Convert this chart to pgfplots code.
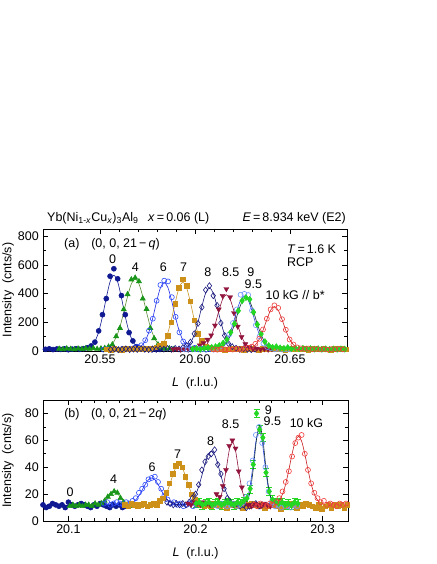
\documentclass[12pt,border=0pt]{standalone}
\usepackage{fontspec}
\setmainfont{Liberation Sans}
\usepackage{pgfplots}
\pgfplotsset{compat=1.18}

\definecolor{c0}{RGB}{15,25,145}
\definecolor{c4}{RGB}{25,150,25}
\definecolor{l4}{RGB}{90,140,50}
\definecolor{c6}{RGB}{45,75,250}
\definecolor{l6}{RGB}{30,40,230}
\definecolor{c7}{RGB}{205,145,25}
\definecolor{l7}{RGB}{200,150,40}
\definecolor{c8}{RGB}{25,25,125}
\definecolor{c85}{RGB}{145,20,60}
\definecolor{c9}{RGB}{35,215,35}
\definecolor{l9}{RGB}{15,45,55}
\definecolor{c95}{RGB}{110,150,255}
\definecolor{l95}{RGB}{40,70,230}
\definecolor{c10}{RGB}{240,60,60}
\definecolor{l10}{RGB}{200,30,30}

\pgfplotsset{
  fit/.style={no marks, smooth, line width=0.6pt},
  dat/.style={only marks, mark options={solid, line width=0.6pt}},
  panel/.style={
    scale only axis, anchor=south west,
    tick align=inside,
    major tick length=5pt, minor tick length=2.8pt,
    tick style={black, line width=0.6pt},
    axis line style={line width=0.7pt},
    /pgf/number format/assume math mode=true,
    every axis y label/.style={at={(axis description cs:-0.115,0.5)}, rotate=90, anchor=center},
    every axis x label/.style={at={(axis description cs:0.5,0)}, anchor=center, yshift=-32pt},
    ylabel={Intensity\ \ (cnts/s)},
    xlabel={\textit{L}\ \ (r.l.u.)},
  },
}

\begin{document}
\begin{tikzpicture}[font=\fontsize{12.5}{14}\selectfont]
\path[use as bounding box] (0,0) rectangle (436pt,564pt);

% ---------- (a) ----------
\begin{axis}[panel, name=top, at={(43pt,213pt)}, width=304pt, height=122pt,
  xmin=20.52, xmax=20.68, ymin=0, ymax=850,
  xtick={20.55,20.60,20.65}, xticklabels={20.55,20.60,20.65},
  minor x tick num=4,
  ytick={0,200,400,600,800}, minor y tick num=1]

\addplot[dat, mark=*, mark size=2.5pt, color=c0] coordinates {
(20.5213,12) (20.5233,15) (20.5253,10) (20.5273,14) (20.5293,11) (20.5313,15) (20.5333,9) (20.5353,13) (20.5373,16) (20.5393,12) (20.5413,16) (20.5433,22) (20.5453,35) (20.5473,62) (20.5493,140) (20.5513,253) (20.5533,365) (20.5553,521) (20.5573,573) (20.5593,503) (20.5613,386) (20.5633,253) (20.5653,128) (20.5673,70) (20.5693,30) (20.5713,17) (20.5733,11) (20.5753,14) (20.5773,9) (20.5793,13) (20.5813,11)};
\addplot[fit, color=c0] coordinates {
(20.52,12) (20.5393,12.3) (20.5413,13.6) (20.5433,18) (20.5453,32) (20.5473,66) (20.5493,133) (20.5513,240) (20.5533,370) (20.5553,482) (20.5573,527) (20.5593,482) (20.5613,370) (20.5633,240) (20.5653,133) (20.5673,66) (20.5693,32) (20.5713,18) (20.5733,13.6) (20.5753,12.3) (20.60,12)};

\addplot[dat, mark=triangle*, mark size=2.9pt, color=c4] coordinates {
(20.5285,15) (20.5305,12) (20.5325,17) (20.5345,14) (20.5365,11) (20.5385,16) (20.5405,13) (20.5425,18) (20.5445,15) (20.5465,19) (20.5485,14) (20.5505,17) (20.5525,20) (20.5545,30) (20.5565,45) (20.5585,102) (20.5605,160) (20.5625,290) (20.5645,395) (20.5665,498) (20.5685,510) (20.5705,485) (20.5725,365) (20.5745,292) (20.5765,160) (20.5785,88) (20.5805,45) (20.5825,24) (20.5845,15) (20.5865,18) (20.5885,12)};
\addplot[fit, color=l4] coordinates {
(20.525,12) (20.5485,12.4) (20.5505,13.5) (20.5525,17) (20.5545,27) (20.5565,50) (20.5585,95) (20.5605,169) (20.5625,270) (20.5645,380) (20.5665,468) (20.5685,502) (20.5705,468) (20.5725,380) (20.5745,270) (20.5765,169) (20.5785,95) (20.5805,50) (20.5825,27) (20.5845,17) (20.5865,13.5) (20.5885,12.4) (20.60,12)};

\addplot[dat, mark=o, mark size=2.5pt, color=c6] coordinates {
(20.5518,10) (20.5538,13) (20.5558,9) (20.5578,14) (20.5598,11) (20.5618,15) (20.5638,12) (20.5658,16) (20.5678,20) (20.5698,28) (20.5718,40) (20.5738,75) (20.5758,142) (20.5778,225) (20.5798,350) (20.5818,460) (20.5838,490) (20.5858,485) (20.5878,375) (20.5898,238) (20.5918,130) (20.5938,66) (20.5958,38) (20.5978,17) (20.5998,22) (20.6018,11) (20.6038,15) (20.6058,9) (20.6078,13) (20.6098,10) (20.6118,14)};
\addplot[fit, color=l6] coordinates {
(20.55,12) (20.5658,12.6) (20.5678,14) (20.5698,20) (20.5718,35) (20.5738,70) (20.5758,135) (20.5778,231) (20.5798,345) (20.5818,440) (20.5838,477) (20.5858,440) (20.5878,345) (20.5898,231) (20.5918,135) (20.5938,70) (20.5958,35) (20.5978,20) (20.5998,14) (20.6018,12.6) (20.615,12)};

\addplot[dat, mark=square*, mark size=2.3pt, color=c7] coordinates {
(20.5536,13) (20.5556,10) (20.5576,15) (20.5596,12) (20.5616,9) (20.5636,14) (20.5656,11) (20.5676,16) (20.5696,12) (20.5716,15) (20.5736,18) (20.5756,14) (20.5776,19) (20.5796,26) (20.5816,40) (20.5836,52) (20.5856,105) (20.5876,200) (20.5896,330) (20.5916,440) (20.5936,500) (20.5956,455) (20.5976,345) (20.5996,215) (20.6016,120) (20.6036,70) (20.6056,34) (20.6076,22) (20.6096,15)
(20.6116,12) (20.6136,15) (20.6156,10) (20.6176,13) (20.6196,16) (20.6216,11) (20.6236,14) (20.6256,9) (20.6276,13) (20.6296,17) (20.6316,12) (20.6336,10) (20.6356,15) (20.6376,13) (20.6396,11) (20.6416,16) (20.6436,12) (20.6456,14) (20.6476,10) (20.6496,13) (20.6516,15) (20.6536,11) (20.6556,12) (20.6576,16) (20.6596,9) (20.6616,14) (20.6636,13) (20.6656,11) (20.6676,15) (20.6696,12) (20.6716,10) (20.6736,14) (20.6756,13) (20.6776,16) (20.6796,11)};
\addplot[fit, color=l7] coordinates {
(20.553,12) (20.5756,12.3) (20.5776,13.5) (20.5796,17.6) (20.5816,30) (20.5836,61) (20.5856,122) (20.5876,219) (20.5896,338) (20.5916,440) (20.5936,480) (20.5956,440) (20.5976,338) (20.5996,219) (20.6016,122) (20.6036,61) (20.6056,30) (20.6076,17.6) (20.6096,13.5) (20.6116,12.3) (20.68,12)};

\addplot[dat, mark=diamond, mark size=3pt, color=c8] coordinates {
(20.5556,11) (20.5576,14) (20.5596,9) (20.5616,12) (20.5636,15) (20.5656,10) (20.5676,13) (20.5696,11) (20.5716,16) (20.5736,12) (20.5756,10) (20.5776,14) (20.5796,11) (20.5816,15) (20.5836,13) (20.5856,17) (20.5876,12) (20.5896,18) (20.5916,14) (20.5936,24) (20.5956,38) (20.5976,62) (20.5996,120) (20.6016,192) (20.6036,305) (20.6056,425) (20.6076,455) (20.6096,385) (20.6116,318) (20.6136,195) (20.6156,108) (20.6176,52) (20.6196,30) (20.6216,19) (20.6236,11) (20.6256,15) (20.6276,12) (20.6296,9) (20.6316,13)};
\addplot[fit, color=c8] coordinates {
(20.555,12) (20.5896,12.3) (20.5916,13.3) (20.5936,17) (20.5956,28.5) (20.5976,56.5) (20.5996,113) (20.6016,202) (20.6036,310) (20.6056,403) (20.6076,440) (20.6096,403) (20.6116,310) (20.6136,202) (20.6156,113) (20.6176,56.5) (20.6196,28.5) (20.6216,17) (20.6236,13.3) (20.6256,12.3) (20.632,12)};

\addplot[dat, mark=triangle*, mark size=2.9pt, mark options={rotate=180}, color=c85] coordinates {
(20.5885,12) (20.5905,15) (20.5925,10) (20.5945,14) (20.5965,11) (20.5985,16) (20.6005,22) (20.6025,40) (20.6045,55) (20.6065,80) (20.6085,110) (20.6105,178) (20.6125,290) (20.6145,385) (20.6165,432) (20.6185,375) (20.6205,265) (20.6225,170) (20.6245,98) (20.6265,48) (20.6285,28) (20.6305,14) (20.6325,17) (20.6345,11) (20.6365,13) (20.6385,10) (20.6405,14)};
\addplot[fit, color=c85] coordinates {
(20.588,12) (20.5985,12.3) (20.6005,13.2) (20.6025,16.5) (20.6045,26.6) (20.6065,51.5) (20.6085,101) (20.6105,180) (20.6125,277) (20.6145,359) (20.6165,392) (20.6185,359) (20.6205,277) (20.6225,180) (20.6245,101) (20.6265,51.5) (20.6285,26.6) (20.6305,16.5) (20.6325,13.2) (20.6345,12.3) (20.641,12)};

\addplot[dat, mark=o, mark size=2.5pt, color=c95] coordinates {
(20.5940,13) (20.5960,10) (20.5980,15) (20.6000,12) (20.6020,16) (20.6040,11) (20.6060,14) (20.6080,17) (20.6100,15) (20.6120,22) (20.6140,35) (20.6160,62) (20.6180,115) (20.6200,195) (20.6220,290) (20.6240,392) (20.6260,398) (20.6280,390) (20.6300,282) (20.6320,180) (20.6340,102) (20.6360,52) (20.6380,28) (20.6400,18) (20.6420,12) (20.6440,15) (20.6460,10) (20.6480,13) (20.6500,11)};
\addplot[fit, color=l95] coordinates {
(20.594,12) (20.6080,12.4) (20.6100,13.8) (20.6120,18.3) (20.6140,30.6) (20.6160,58.5) (20.6180,110) (20.6200,188) (20.6220,279) (20.6240,354) (20.6260,384) (20.6280,354) (20.6300,279) (20.6320,188) (20.6340,110) (20.6360,58.5) (20.6380,30.6) (20.6400,18.3) (20.6420,13.8) (20.6440,12.4) (20.650,12)};

\addplot[dat, mark=diamond*, mark size=3pt, color=c9] coordinates {
(20.5988,14) (20.6008,17) (20.6028,12) (20.6048,19) (20.6068,22) (20.6088,25) (20.6108,30) (20.6128,38) (20.6148,55) (20.6168,80) (20.6188,130) (20.6208,190) (20.6228,280) (20.6248,350) (20.6268,372) (20.6288,360) (20.6308,270) (20.6328,185) (20.6348,118) (20.6368,65) (20.6388,38) (20.6408,26) (20.6428,30) (20.6448,22) (20.6468,18) (20.6488,24) (20.6508,17) (20.6528,20) (20.6548,15) (20.6568,19) (20.6588,14) (20.6608,17) (20.6628,13) (20.6648,16) (20.6668,12) (20.6688,15) (20.6708,11) (20.6728,14) (20.6748,12) (20.6768,15) (20.6788,13)};
\addplot[fit, color=l9] coordinates {
(20.598,12) (20.6088,12.5) (20.6108,14.2) (20.6128,19) (20.6148,32) (20.6168,61) (20.6188,113) (20.6208,188) (20.6228,275) (20.6248,346) (20.6268,374) (20.6288,346) (20.6308,275) (20.6328,188) (20.6348,113) (20.6368,61) (20.6388,32) (20.6408,19) (20.6428,14.2) (20.6448,12.5) (20.68,12)};

\addplot[dat, mark=o, mark size=2.5pt, color=c10] coordinates {
(20.6098,12) (20.6118,9) (20.6138,14) (20.6158,11) (20.6178,13) (20.6198,10) (20.6218,15) (20.6238,12) (20.6258,16) (20.6278,22) (20.6298,30) (20.6318,50) (20.6338,85) (20.6358,150) (20.6378,225) (20.6398,290) (20.6418,318) (20.6438,300) (20.6458,222) (20.6478,148) (20.6498,80) (20.6518,45) (20.6538,25) (20.6558,18) (20.6578,14) (20.6598,17) (20.6618,12) (20.6638,15) (20.6658,11) (20.6678,14) (20.6698,10) (20.6718,13) (20.6738,12) (20.6758,15) (20.6778,11)};
\addplot[fit, color=l10] coordinates {
(20.609,12) (20.6238,12.2) (20.6258,12.9) (20.6278,15.5) (20.6298,23.5) (20.6318,43) (20.6338,82) (20.6358,144) (20.6378,219) (20.6398,284) (20.6418,310) (20.6438,284) (20.6458,219) (20.6478,144) (20.6498,82) (20.6518,43) (20.6538,23.5) (20.6558,15.5) (20.6578,12.9) (20.6598,12.2) (20.678,12)};

% labels
\node[anchor=west] at (axis description cs:0.056,0.877) {(a)};
\node[anchor=west] at (axis description cs:0.145,0.877) {(0, 0, 21\,−\,\textit{q})};
\node[anchor=west] at (axis description cs:0.789,0.836) {\textit{T}\,=\,1.6 K};
\node[anchor=west] at (axis description cs:0.789,0.73) {RCP};
\node at (axis cs:20.5566,639) {0};
\node at (axis cs:20.5686,582) {4};
\node at (axis cs:20.5833,582) {6};
\node at (axis cs:20.5940,582) {7};
\node at (axis cs:20.6068,547) {8};
\node at (axis cs:20.6188,547) {8.5};
\node at (axis cs:20.6294,547) {9};
\node at (axis cs:20.6307,463) {9.5};
\node at (axis cs:20.6527,393) {10 kG // b*};
\end{axis}

\node[anchor=base west] at ([yshift=7pt]top.north west) {Yb(Ni\textsubscript{1-\textit{x}}Cu\textsubscript{\textit{x}})\textsubscript{3}Al\textsubscript{9}};
\node[anchor=base west] at ([xshift=101pt,yshift=7pt]top.north west) {\textit{x}\,=\,0.06 (L)};
\node[anchor=base east] at ([xshift=3pt,yshift=7pt]top.north east) {\textit{E}\,=\,8.934 keV (E2)};

% ---------- (b) ----------
\begin{axis}[panel, at={(43pt,43pt)}, width=305pt, height=121pt,
  xmin=20.08, xmax=20.32, ymin=0, ymax=90,
  xtick={20.1,20.2,20.3}, xticklabels={20.1,20.2,20.3},
  minor x tick num=9,
  ytick={0,20,40,60,80}, minor y tick num=1]

\addplot[dat, mark=*, mark size=2.5pt, color=c0] coordinates {
(20.0800,12) (20.0825,10) (20.0850,11) (20.0875,13) (20.0900,12) (20.0925,11) (20.0950,12) (20.0975,10) (20.1000,14) (20.1025,12) (20.1050,11) (20.1075,12) (20.1100,13) (20.1125,12) (20.1150,11) (20.1175,10) (20.1200,12) (20.1225,11) (20.1250,13) (20.1275,12) (20.1300,11) (20.1325,10) (20.1350,12) (20.1375,11) (20.1400,12) (20.1425,10) (20.1450,11)};
\addplot[no marks, line width=0.6pt, color=c0] coordinates {(20.08,11.8) (20.145,11.8)};

\addplot[dat, mark=triangle*, mark size=2.9pt, color=c4] coordinates {
(20.1010,11) (20.1035,12) (20.1060,11) (20.1085,12) (20.1110,11) (20.1135,12) (20.1160,12) (20.1185,11) (20.1210,13) (20.1235,12) (20.1260,13) (20.1285,15) (20.1310,18) (20.1335,20) (20.1360,22) (20.1385,21) (20.1410,17) (20.1435,14) (20.1460,12) (20.1485,11) (20.1510,12)};
\addplot[fit, color=l4] coordinates {
(20.10,12) (20.1235,12.2) (20.126,12.8) (20.1285,14.5) (20.131,17.4) (20.1335,20.6) (20.136,22) (20.1385,20.6) (20.141,17.4) (20.1435,14.5) (20.146,12.8) (20.1485,12.2) (20.152,12)};

\addplot[dat, mark=o, mark size=2.5pt, color=c6] coordinates {
(20.1280,13) (20.1305,14) (20.1330,12) (20.1355,13) (20.1380,14) (20.1405,13) (20.1430,12) (20.1455,14) (20.1480,13) (20.1505,15) (20.1530,17) (20.1555,21) (20.1580,24) (20.1605,27) (20.1630,31) (20.1655,32) (20.1680,33) (20.1705,29) (20.1730,24) (20.1755,19) (20.1780,16) (20.1805,13) (20.1830,14) (20.1855,12) (20.1880,13) (20.1905,11) (20.1930,12) (20.1955,13) (20.1980,11) (20.2005,12)};
\addplot[fit, color=l6] coordinates {
(20.128,12) (20.1455,12.3) (20.148,12.7) (20.1505,13.8) (20.153,15.7) (20.1555,18.8) (20.158,22.9) (20.1605,27.3) (20.163,30.7) (20.1655,32) (20.168,30.7) (20.1705,27.3) (20.173,22.9) (20.1755,18.8) (20.178,15.7) (20.1805,13.8) (20.183,12.7) (20.1855,12.3) (20.201,12)};

\addplot[dat, mark=square*, mark size=2.3pt, color=c7] coordinates {
(20.1445,12) (20.1470,11) (20.1495,13) (20.1520,12) (20.1545,11) (20.1570,12) (20.1595,13) (20.1620,11) (20.1645,12) (20.1670,13) (20.1695,12) (20.1720,15) (20.1745,17) (20.1770,21) (20.1795,28) (20.1820,35) (20.1845,41) (20.1870,43) (20.1895,40) (20.1920,33) (20.1945,27) (20.1970,20) (20.1995,16) (20.2020,13) (20.2045,12) (20.2070,11)
(20.2095,12) (20.2120,11) (20.2145,13) (20.2170,12) (20.2195,11) (20.2220,12) (20.2245,10) (20.2270,12) (20.2295,13) (20.2320,11) (20.2345,12) (20.2370,10) (20.2395,12) (20.2420,11) (20.2445,13) (20.2470,12) (20.2495,11) (20.2520,12) (20.2545,10) (20.2570,11) (20.2595,13) (20.2620,12) (20.2645,11) (20.2670,9) (20.2695,12) (20.2720,11) (20.2745,13) (20.2770,12) (20.2795,10) (20.2820,12) (20.2845,11) (20.2870,13) (20.2895,12) (20.2920,11) (20.2945,10) (20.2970,12) (20.2995,9) (20.3020,11) (20.3045,12) (20.3070,10) (20.3095,12) (20.3120,11) (20.3145,12) (20.3170,10) (20.3195,12)};
\addplot[fit, color=l7] coordinates {
(20.144,12) (20.167,12.2) (20.1695,12.6) (20.172,13.6) (20.1745,15.9) (20.177,20.2) (20.1795,26.4) (20.182,33.7) (20.1845,39.7) (20.187,42) (20.1895,39.7) (20.192,33.7) (20.1945,26.4) (20.197,20.2) (20.1995,15.9) (20.202,13.6) (20.2045,12.6) (20.207,12.2) (20.32,12)};

\addplot[dat, mark=diamond, mark size=3pt, color=c8] coordinates {
(20.1775,14) (20.1800,13) (20.1825,12) (20.1850,13) (20.1875,12) (20.1900,13) (20.1925,12) (20.1950,14) (20.1975,17) (20.2000,20) (20.2025,27) (20.2050,38) (20.2075,44) (20.2100,48) (20.2125,50) (20.2150,53) (20.2175,42) (20.2200,35) (20.2225,24) (20.2250,17) (20.2275,14) (20.2300,12) (20.2325,13) (20.2350,11) (20.2375,12) (20.2400,10) (20.2425,11) (20.2450,12) (20.2475,13) (20.2500,11) (20.2525,12)};
\addplot[fit, color=c8] coordinates {
(20.177,12) (20.19,12.2) (20.1925,12.5) (20.195,13.5) (20.1975,15.5) (20.2,19.4) (20.2025,25.6) (20.205,33.8) (20.2075,42.5) (20.21,49.4) (20.2125,52) (20.215,49.4) (20.2175,42.5) (20.22,33.8) (20.2225,25.6) (20.225,19.4) (20.2275,15.5) (20.23,13.5) (20.2325,12.5) (20.235,12.2) (20.253,12)};

\addplot[dat, mark=triangle*, mark size=2.9pt, mark options={rotate=180}, color=c85] coordinates {
(20.1940,13) (20.1965,12) (20.1990,14) (20.2015,13) (20.2040,12) (20.2065,14) (20.2090,13) (20.2115,12) (20.2140,13) (20.2165,20) (20.2190,18) (20.2215,26) (20.2240,38) (20.2265,56) (20.2290,60) (20.2315,54) (20.2340,37) (20.2365,25) (20.2390,15) (20.2415,12) (20.2440,11) (20.2465,13) (20.2490,12) (20.2515,11) (20.2540,13) (20.2565,12) (20.2590,11)};
\addplot[fit, color=c85] coordinates {
(20.194,12) (20.214,12.2) (20.2165,13) (20.219,16) (20.2215,23.7) (20.224,37.4) (20.2265,52.3) (20.229,59) (20.2315,52.3) (20.234,37.4) (20.2365,23.7) (20.239,16) (20.2415,13) (20.244,12.2) (20.259,12)};

\addplot[dat, mark=o, mark size=2.5pt, color=c95] coordinates {
(20.2150,12) (20.2175,11) (20.2200,13) (20.2225,12) (20.2250,11) (20.2275,12) (20.2300,13) (20.2325,11) (20.2350,12) (20.2375,14) (20.2400,18) (20.2425,28) (20.2450,45) (20.2475,64) (20.2500,70) (20.2525,58) (20.2550,40) (20.2575,22) (20.2600,14) (20.2625,11) (20.2650,12) (20.2675,10) (20.2700,12) (20.2725,11) (20.2750,10) (20.2775,12) (20.2800,11)};
\addplot[fit, color=l95] coordinates {
(20.215,12) (20.235,12.1) (20.2375,12.7) (20.24,15.3) (20.2425,23.4) (20.245,39.6) (20.2475,58.9) (20.25,68) (20.2525,58.9) (20.255,39.6) (20.2575,23.4) (20.26,15.3) (20.2625,12.7) (20.265,12.1) (20.28,12)};

\addplot[dat, mark=diamond*, mark size=3pt, color=c9, error bars/.cd, y dir=both, y fixed=3] coordinates {
(20.2005,13) (20.2030,14) (20.2055,12) (20.2080,13) (20.2105,14) (20.2130,12) (20.2155,13) (20.2180,14) (20.2205,12) (20.2230,13) (20.2255,14) (20.2280,13) (20.2305,12) (20.2330,14) (20.2355,13) (20.2380,15) (20.2405,17) (20.2430,24) (20.2455,42) (20.2480,80) (20.2505,68) (20.2530,62) (20.2555,36) (20.2580,22) (20.2605,16) (20.2630,14) (20.2655,13) (20.2680,14) (20.2705,12) (20.2730,13) (20.2755,12) (20.2780,14) (20.2805,13)};
\addplot[fit, color=l9] coordinates {
(20.20,12) (20.2355,12.05) (20.238,12.4) (20.2405,14.6) (20.243,22.1) (20.2455,39) (20.248,60.6) (20.2505,71) (20.253,60.6) (20.2555,39) (20.258,22.1) (20.2605,14.6) (20.263,12.4) (20.2655,12.05) (20.281,12)};

\addplot[dat, mark=o, mark size=2.5pt, color=c10] coordinates {
(20.2460,12) (20.2485,11) (20.2510,13) (20.2535,12) (20.2560,11) (20.2585,13) (20.2610,12) (20.2635,14) (20.2660,17) (20.2685,22) (20.2710,29) (20.2735,37) (20.2760,48) (20.2785,58) (20.2810,62) (20.2835,64) (20.2860,50) (20.2885,38) (20.2910,28) (20.2935,21) (20.2960,17) (20.2985,14) (20.3010,15) (20.3035,12) (20.3060,13) (20.3085,12) (20.3110,11) (20.3135,13) (20.3160,12) (20.3185,13) (20.3210,12)};
\addplot[fit, color=l10] coordinates {
(20.246,12) (20.2585,12.1) (20.261,12.4) (20.2635,13.4) (20.266,15.6) (20.2685,20) (20.271,27.6) (20.2735,38.2) (20.276,49.9) (20.2785,59.4) (20.281,63) (20.2835,59.4) (20.286,49.9) (20.2885,38.2) (20.291,27.6) (20.2935,20) (20.296,15.6) (20.2985,13.4) (20.301,12.4) (20.3035,12.1) (20.321,12)};

\node[anchor=west] at (axis description cs:0.056,0.884) {(b)};
\node[anchor=west] at (axis description cs:0.144,0.884) {(0, 0, 21\,−\,2\textit{q})};
\node at (axis cs:20.1013,21.3) {0};
\node at (axis cs:20.1355,30.9) {4};
\node at (axis cs:20.1658,39.8) {6};
\node at (axis cs:20.1860,49.6) {7};
\node at (axis cs:20.2118,59.3) {8};
\node at (axis cs:20.2276,71.9) {8.5};
\node at (axis cs:20.2573,82.7) {9};
\node at (axis cs:20.2605,74.3) {9.5};
\node at (axis cs:20.2873,72.8) {10 kG};
\end{axis}
\end{tikzpicture}
\end{document}
